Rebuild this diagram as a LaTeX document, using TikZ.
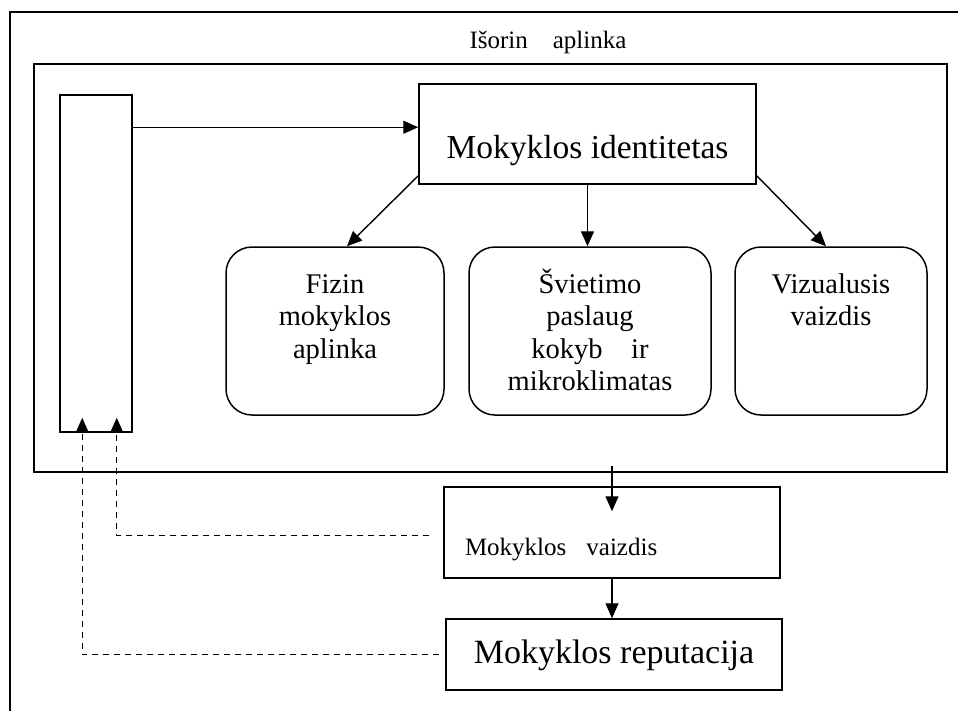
\documentclass[tikz,border=0pt]{standalone}
\usepackage{fontspec}
\setmainfont{Liberation Serif}
\usetikzlibrary{arrows.meta,calc}

\begin{document}
\begin{tikzpicture}[
      x=1pt, y=-1pt,
      frame/.style={line width=2pt},
      box/.style={draw, line width=1.5pt, inner sep=0pt, align=center},
      soft/.style={box, rounded corners=26pt, minimum height=168pt,
                   font=\fontsize{28.5}{32.5}\selectfont, text height=20pt, text depth=96pt},
      arr/.style={-{Triangle[length=15pt,width=13pt]}, line width=1.4pt},
      back/.style={arr, dash pattern=on 6pt off 5pt}
    ]
      \useasboundingbox (0,0) rectangle (958,710);
      \draw[frame] (10,712) -- (10,12) -- (960,12);
      \node[draw, frame, minimum width=913pt, minimum height=408pt] (env) at (490.5,268) {};
      \node[anchor=base, font=\fontsize{25}{29}\selectfont] (envlabel) at (548,48) {Išorin\quad aplinka};
      \node[box, minimum width=72pt, minimum height=337pt] (bar) at (96,263.5) {};
      \node[box, minimum width=337pt, minimum height=100pt, font=\fontsize{33.5}{38}\selectfont,
            text height=55pt, text depth=7pt] (ident) at (587.5,134) {Mokyklos identitetas};
      \node[soft, text width=218pt] (phys) at (335,331) {Fizin\\mokyklos\\aplinka};
      \node[soft, text width=242pt] (edu) at (590,331) {Švietimo\\paslaug\hspace*{0.6em}\\kokyb\quad ir\\mikroklimatas};
      \node[soft, text width=192pt] (vis) at (831,331) {Vizualusis\\vaizdis};
      \node[box, text width=294pt, inner xsep=21pt, align=left, minimum height=91pt,
            font=\fontsize{25}{29}\selectfont, text height=51pt, text depth=6pt] (view) at (612,532.5) {Mokyklos\hspace{0.8em}vaizdis};
      \node[box, minimum width=336pt, minimum height=71pt, font=\fontsize{34}{38}\selectfont,
            text height=24pt, text depth=7pt] (rep) at (614,654.5) {Mokyklos reputacija};

      \draw[arr] ($(bar.north east)+(0,33)$) -- ($(ident.north west)+(0,44)$);
      \draw[arr] ($(ident.south west)+(0,-9)$) -- ($(phys.north)+(12,0)$);
      \draw[arr] (ident.south) -- (ident.south |- edu.north);
      \draw[arr] ($(ident.south east)+(0,-9)$) -- ($(vis.north)+(-5,0)$);
      \draw[arr] ($(view.north |- env.south)+(0,-7)$) -- ($(view.north)+(0,25)$);
      \draw[arr] (view.south) -- (view.south |- rep.north);
      \draw[back] ($(rep.west)+(-6,0)$) -| ($(bar.south west)+(23,-15)$);
      \draw[back] ($(view.west)+(-14,3)$) -| ($(bar.south east)+(-16,-15)$);
    \end{tikzpicture}
\end{document}
